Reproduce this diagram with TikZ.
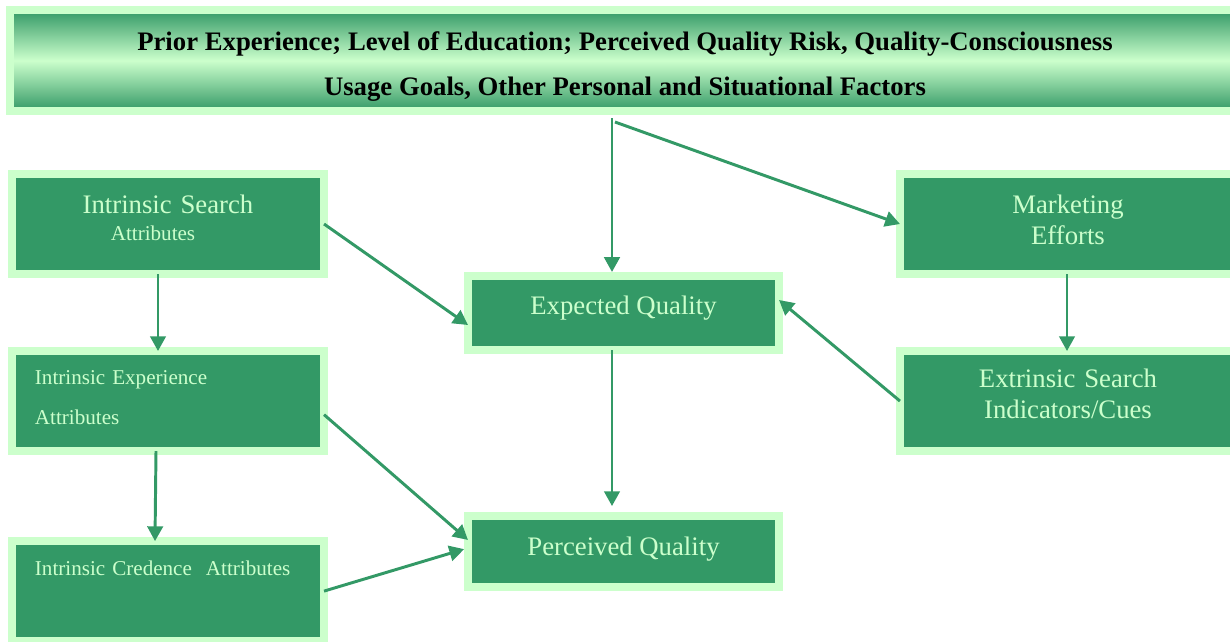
\documentclass[tikz,border=0pt]{standalone}
\usepackage{fontspec}
\setmainfont{Liberation Serif}
\usetikzlibrary{positioning}
\usetikzlibrary{arrows.meta}

\definecolor{boxgreen}{HTML}{339966}
\definecolor{palegreen}{HTML}{CCFFCC}

\begin{document}
\begin{tikzpicture}[
    x=0.025cm, y=-0.025cm,
    mybox/.style={draw=palegreen,line width=5.7pt,fill=boxgreen,text=palegreen,
      outer sep=0pt,inner sep=0pt,minimum width=7.8cm,minimum height=2.5cm},
    bigfont/.style={font=\fontsize{19}{22}\selectfont},
    smallfont/.style={font=\fontsize{15}{28}\selectfont},
    sidebox/.style={mybox,text width=6.65cm},
    qualbox/.style={mybox,bigfont,align=center,minimum width=7.775cm},
    flow/.style={draw=boxgreen,line width=2.1pt,-{Triangle[length=10.5pt,width=11pt]}}
    ]

    \useasboundingbox (0,0) rectangle (1230,641);

    \node[mybox, text=black, top color=boxgreen, bottom color=boxgreen, middle color=palegreen,
      minimum width=30.75cm, minimum height=2.525cm, align=center,
      font=\fontsize{19}{32.6}\selectfont\bfseries] (fac) at (625,60.5)
      {\rule{0pt}{22pt}Prior Experience; Level of Education; Perceived Quality Risk, Quality-Consciousness\\
       Usage Goals, Other Personal and Situational Factors};

    \node[sidebox, bigfont, align=center, text depth=27.5pt] (srch) at (168,224)
      {Intrinsic Search\\[-3pt]{\fontsize{15}{18}\selectfont Attributes\hspace*{0.75cm}}};
    \node[sidebox, smallfont, align=left, text depth=33pt, below=1.925cm of srch] (expr)
      {Intrinsic Experience\\Attributes};
    \node[sidebox, smallfont, align=left, text depth=32.3pt, below=2.25cm of expr] (cred)
      {Intrinsic Credence\ \ Attributes\\\mbox{}};

    \node[qualbox, minimum height=1.85cm, text depth=11pt] (exp) at (623.5,313) {Expected Quality};
    \node[qualbox, minimum height=1.775cm, text depth=7pt, below=4.15cm of exp] (perc) {Perceived Quality};

    \node[sidebox, bigfont, align=center, minimum width=8.4cm, text depth=27.7pt] (mkt) at (1068,224)
      {Marketing\\Efforts};
    \node[sidebox, bigfont, align=center, minimum width=8.4cm, text depth=32.2pt, below=1.925cm of mkt] (ext)
      {Extrinsic Search\\Indicators/Cues};

    % split point under the factors banner
    \coordinate (split) at ([xshift=-0.325cm,yshift=-0.175cm]fac.south);

    \draw[flow, shorten >=0.1cm] (split) -- (split |- exp.north);
    \draw[flow] ([xshift=0.075cm,yshift=-0.1cm]split) -- (mkt.west);
    \draw[flow] (srch.east) -- ([yshift=-0.3cm]exp.west);
    \draw[flow] ([xshift=-0.25cm]srch.south) -- ([xshift=-0.25cm]expr.north);
    \draw[flow] ([xshift=-0.3cm]expr.south) -- ([xshift=-0.325cm]cred.north);
    \draw[flow] ([yshift=-0.34cm]expr.east) -- ([yshift=0.29cm]perc.west);
    \draw[flow, shorten >=0.1cm] (cred.east) -- ([yshift=0.09cm]perc.west);
    \draw[flow, shorten >=0.25cm] (exp.south -| split) -- (perc.north -| split);
    \draw[flow] ([xshift=-0.025cm]mkt.south) -- ([xshift=-0.025cm]ext.north);
    \draw[flow] (ext.west) -- ([yshift=0.325cm]exp.east);

\end{tikzpicture}
\end{document}
